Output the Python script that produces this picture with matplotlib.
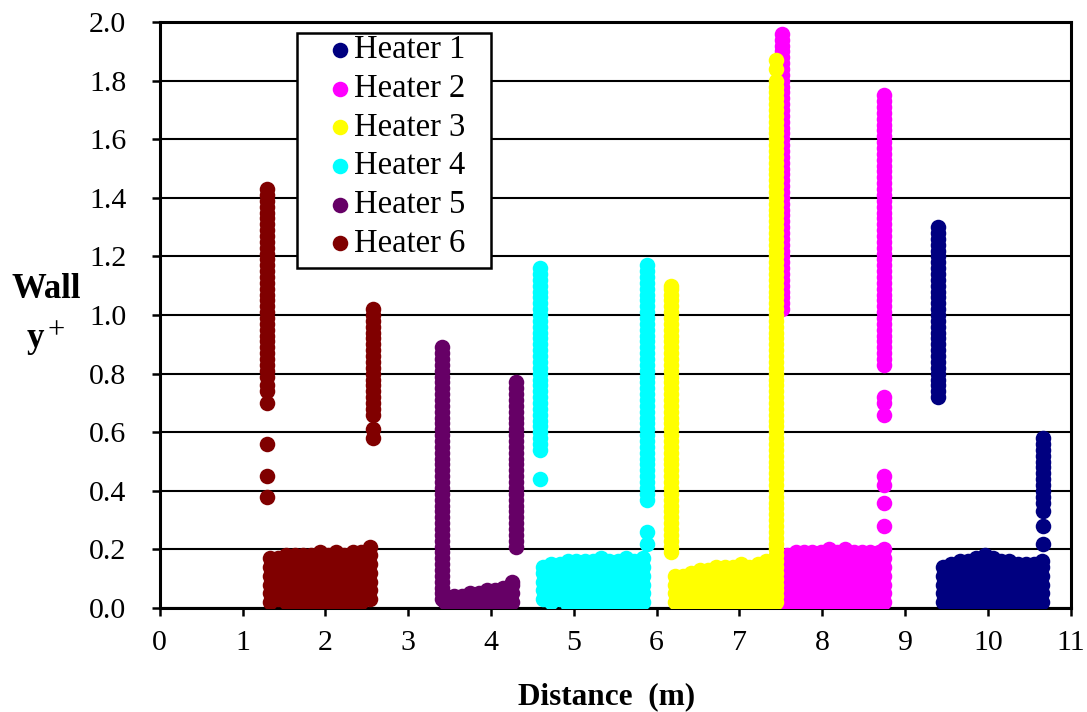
import matplotlib
matplotlib.use("Agg")
import matplotlib.pyplot as plt
from matplotlib.patches import Rectangle

plt.rcParams["font.family"] = ["Liberation Serif", "DejaVu Serif"]

labels = ["Heater 1", "Heater 2", "Heater 3", "Heater 4", "Heater 5", "Heater 6"]
colors = ["#000080", "#FF00FF", "#FFFF00", "#00FFFF", "#660066", "#800000"]

# vertical streaks: (x, [y values])
h1_cols = [
    (9.40, [0.72, 0.74, 0.76, 0.78, 0.80, 0.82, 0.84, 0.86, 0.88, 0.90, 0.92, 0.94,
            0.96, 0.98, 1.00, 1.02, 1.04, 1.06, 1.08, 1.10, 1.12, 1.14, 1.16, 1.18,
            1.20, 1.22, 1.24, 1.26, 1.28, 1.30]),
    (10.67, [0.22, 0.28, 0.33, 0.36, 0.38, 0.40, 0.42, 0.44, 0.46, 0.48, 0.50, 0.52,
             0.54, 0.56, 0.58]),
]
h2_cols = [
    (7.51, [1.02, 1.04, 1.06, 1.08, 1.10, 1.12, 1.14, 1.16, 1.18, 1.20, 1.22, 1.24,
            1.26, 1.28, 1.30, 1.32, 1.34, 1.36, 1.38, 1.40, 1.42, 1.44, 1.46, 1.48,
            1.50, 1.52, 1.54, 1.56, 1.58, 1.60, 1.62, 1.64, 1.66, 1.68, 1.70, 1.72,
            1.74, 1.76, 1.78, 1.80, 1.82, 1.84, 1.86, 1.88, 1.90, 1.92, 1.94, 1.96]),
    (8.75, [0.28, 0.36, 0.42, 0.45, 0.66, 0.70, 0.72, 0.83, 0.85, 0.87, 0.89, 0.91,
            0.93, 0.95, 0.97, 0.99, 1.01, 1.03, 1.05, 1.07, 1.09, 1.11, 1.13, 1.15,
            1.17, 1.19, 1.21, 1.23, 1.25, 1.27, 1.29, 1.31, 1.33, 1.35, 1.37, 1.39,
            1.41, 1.43, 1.45, 1.47, 1.49, 1.51, 1.53, 1.55, 1.57, 1.59, 1.61, 1.63,
            1.65, 1.67, 1.69, 1.71, 1.73, 1.75]),
]
h3_cols = [
    (6.17, [0.19, 0.21, 0.23, 0.25, 0.27, 0.29, 0.31, 0.33, 0.35, 0.37, 0.39, 0.41,
            0.43, 0.45, 0.47, 0.49, 0.51, 0.53, 0.55, 0.57, 0.59, 0.61, 0.63, 0.65,
            0.67, 0.69, 0.71, 0.73, 0.75, 0.77, 0.79, 0.81, 0.83, 0.85, 0.87, 0.89,
            0.91, 0.93, 0.95, 0.97, 0.99, 1.01, 1.03, 1.05, 1.07, 1.09, 1.10]),
    (7.44, [0.02, 0.04, 0.06, 0.08, 0.10, 0.12, 0.14, 0.16, 0.18, 0.20, 0.22, 0.24,
            0.26, 0.28, 0.30, 0.32, 0.34, 0.36, 0.38, 0.40, 0.42, 0.44, 0.46, 0.48,
            0.50, 0.52, 0.54, 0.56, 0.58, 0.60, 0.62, 0.64, 0.66, 0.68, 0.70, 0.72,
            0.74, 0.76, 0.78, 0.80, 0.82, 0.84, 0.86, 0.88, 0.90, 0.92, 0.94, 0.96,
            0.98, 1.00, 1.02, 1.04, 1.06, 1.08, 1.10, 1.12, 1.14, 1.16, 1.18, 1.20,
            1.22, 1.24, 1.26, 1.28, 1.30, 1.32, 1.34, 1.36, 1.38, 1.40, 1.42, 1.44,
            1.46, 1.48, 1.50, 1.52, 1.54, 1.56, 1.58, 1.60, 1.62, 1.64, 1.66, 1.68,
            1.70, 1.72, 1.74, 1.76, 1.78, 1.80, 1.84, 1.87]),
]
h4_cols = [
    (4.59, [0.44, 0.54, 0.56, 0.58, 0.60, 0.62, 0.64, 0.66, 0.68, 0.70, 0.72, 0.74,
            0.76, 0.78, 0.80, 0.82, 0.84, 0.86, 0.88, 0.90, 0.92, 0.94, 0.96, 0.98,
            1.00, 1.02, 1.04, 1.06, 1.08, 1.10, 1.12, 1.14, 1.16]),
    (5.88, [0.22, 0.26, 0.37, 0.39, 0.41, 0.43, 0.45, 0.47, 0.49, 0.51, 0.53, 0.55,
            0.57, 0.59, 0.61, 0.63, 0.65, 0.67, 0.69, 0.71, 0.73, 0.75, 0.77, 0.79,
            0.81, 0.83, 0.85, 0.87, 0.89, 0.91, 0.93, 0.95, 0.97, 0.99, 1.01, 1.03,
            1.05, 1.07, 1.09, 1.11, 1.13, 1.15, 1.17]),
]
h5_cols = [
    (3.41, [0.03, 0.05, 0.07, 0.09, 0.11, 0.13, 0.15, 0.17, 0.19, 0.21, 0.23, 0.25,
            0.27, 0.29, 0.31, 0.33, 0.35, 0.37, 0.39, 0.41, 0.43, 0.45, 0.47, 0.49,
            0.51, 0.53, 0.55, 0.57, 0.59, 0.61, 0.63, 0.65, 0.67, 0.69, 0.71, 0.73,
            0.75, 0.77, 0.79, 0.81, 0.83, 0.85, 0.87, 0.89]),
    (4.30, [0.21, 0.23, 0.25, 0.27, 0.29, 0.31, 0.33, 0.35, 0.37, 0.39, 0.41, 0.43,
            0.45, 0.47, 0.49, 0.51, 0.53, 0.55, 0.57, 0.59, 0.61, 0.63, 0.65, 0.67,
            0.69, 0.71, 0.73, 0.75, 0.77]),
]
h6_cols = [
    (1.30, [0.38, 0.45, 0.56, 0.70, 0.74, 0.76, 0.79, 0.81, 0.83, 0.85, 0.87, 0.89,
            0.91, 0.93, 0.95, 0.97, 0.99, 1.01, 1.03, 1.05, 1.07, 1.09, 1.11, 1.13,
            1.15, 1.17, 1.19, 1.21, 1.23, 1.25, 1.27, 1.29, 1.31, 1.33, 1.35, 1.37,
            1.39, 1.41, 1.43]),
    (2.57, [0.58, 0.61, 0.66, 0.68, 0.70, 0.72, 0.74, 0.76, 0.78, 0.80, 0.82, 0.84,
            0.86, 0.88, 0.90, 0.92, 0.94, 0.96, 0.98, 1.00, 1.02]),
]

# low bands along the wall: (x, [y values])
h1_band = [
    (9.46, [0.02, 0.05, 0.08, 0.11, 0.14]),
    (9.56, [0.01, 0.04, 0.07, 0.10, 0.13, 0.15]),
    (9.66, [0.02, 0.05, 0.08, 0.11, 0.14, 0.16]),
    (9.76, [0.01, 0.04, 0.07, 0.10, 0.13, 0.16]),
    (9.86, [0.02, 0.05, 0.08, 0.11, 0.14, 0.17]),
    (9.96, [0.01, 0.04, 0.07, 0.10, 0.13, 0.16, 0.18]),
    (10.06, [0.02, 0.05, 0.08, 0.11, 0.14, 0.17]),
    (10.16, [0.01, 0.04, 0.07, 0.10, 0.13, 0.16]),
    (10.26, [0.02, 0.05, 0.08, 0.11, 0.14, 0.16]),
    (10.36, [0.01, 0.04, 0.07, 0.10, 0.13, 0.15]),
    (10.46, [0.02, 0.05, 0.08, 0.11, 0.14, 0.15]),
    (10.56, [0.01, 0.04, 0.07, 0.10, 0.13, 0.15]),
    (10.65, [0.02, 0.05, 0.08, 0.11, 0.14, 0.16]),
]
h2_band = [
    (7.58, [0.01, 0.04, 0.07, 0.10, 0.13, 0.16, 0.18]),
    (7.68, [0.00, 0.03, 0.06, 0.09, 0.12, 0.15, 0.18, 0.19]),
    (7.78, [0.01, 0.04, 0.07, 0.10, 0.13, 0.16, 0.19]),
    (7.88, [0.02, 0.05, 0.08, 0.11, 0.14, 0.17, 0.19]),
    (7.98, [0.01, 0.04, 0.07, 0.10, 0.13, 0.16, 0.19]),
    (8.08, [0.00, 0.03, 0.06, 0.09, 0.12, 0.15, 0.18, 0.20]),
    (8.18, [0.01, 0.04, 0.07, 0.10, 0.13, 0.16, 0.19]),
    (8.28, [0.02, 0.05, 0.08, 0.11, 0.14, 0.17, 0.20]),
    (8.38, [0.01, 0.04, 0.07, 0.10, 0.13, 0.16, 0.19]),
    (8.48, [0.00, 0.03, 0.06, 0.09, 0.12, 0.15, 0.18, 0.19]),
    (8.58, [0.01, 0.04, 0.07, 0.10, 0.13, 0.16, 0.19]),
    (8.68, [0.00, 0.03, 0.06, 0.09, 0.12, 0.15, 0.18, 0.19]),
    (8.74, [0.02, 0.05, 0.08, 0.11, 0.14, 0.17, 0.20]),
]
h3_band = [
    (6.22, [0.02, 0.05, 0.08, 0.11]),
    (6.32, [0.02, 0.05, 0.08, 0.11]),
    (6.42, [0.01, 0.04, 0.07, 0.10, 0.12]),
    (6.52, [0.02, 0.05, 0.08, 0.11, 0.13]),
    (6.62, [0.01, 0.04, 0.07, 0.10, 0.13]),
    (6.72, [0.02, 0.05, 0.08, 0.11, 0.14]),
    (6.82, [0.01, 0.04, 0.07, 0.10, 0.13, 0.14]),
    (6.92, [0.02, 0.05, 0.08, 0.11, 0.14]),
    (7.02, [0.01, 0.04, 0.07, 0.10, 0.13, 0.15]),
    (7.12, [0.02, 0.05, 0.08, 0.11, 0.14]),
    (7.22, [0.01, 0.04, 0.07, 0.10, 0.13, 0.15]),
    (7.32, [0.02, 0.05, 0.08, 0.11, 0.14, 0.16]),
    (7.40, [0.00, 0.03, 0.06, 0.09, 0.12, 0.15]),
]
h4_band = [
    (4.63, [0.03, 0.06, 0.09, 0.12, 0.14]),
    (4.73, [0.02, 0.05, 0.08, 0.11, 0.14, 0.15]),
    (4.83, [0.03, 0.06, 0.09, 0.12, 0.15]),
    (4.93, [0.01, 0.04, 0.07, 0.10, 0.13, 0.16]),
    (5.03, [0.02, 0.05, 0.08, 0.11, 0.14, 0.16]),
    (5.13, [0.01, 0.04, 0.07, 0.10, 0.13, 0.16]),
    (5.23, [0.02, 0.05, 0.08, 0.11, 0.14, 0.16]),
    (5.33, [0.00, 0.03, 0.06, 0.09, 0.12, 0.15, 0.17]),
    (5.43, [0.02, 0.05, 0.08, 0.11, 0.14, 0.16]),
    (5.53, [0.01, 0.04, 0.07, 0.10, 0.13, 0.16]),
    (5.63, [0.00, 0.03, 0.06, 0.09, 0.12, 0.15, 0.17]),
    (5.73, [0.02, 0.05, 0.08, 0.11, 0.14, 0.16]),
    (5.84, [0.02, 0.05, 0.08, 0.11, 0.14, 0.17]),
]
h5_band = [
    (3.45, [0.02, 0.04]),
    (3.55, [0.01, 0.04]),
    (3.65, [0.01, 0.04]),
    (3.75, [0.02, 0.05]),
    (3.85, [0.00, 0.03, 0.05]),
    (3.95, [0.01, 0.04, 0.06]),
    (4.05, [0.01, 0.04, 0.06]),
    (4.15, [0.00, 0.03, 0.06, 0.07]),
    (4.25, [0.02, 0.05, 0.08, 0.09]),
]
h6_band = [
    (1.33, [0.02, 0.05, 0.08, 0.11, 0.14, 0.17]),
    (1.43, [0.03, 0.06, 0.09, 0.12, 0.15, 0.17]),
    (1.53, [0.02, 0.05, 0.08, 0.11, 0.14, 0.18]),
    (1.63, [0.01, 0.04, 0.07, 0.10, 0.13, 0.16, 0.18]),
    (1.73, [0.02, 0.05, 0.08, 0.11, 0.14, 0.18]),
    (1.83, [0.00, 0.03, 0.06, 0.09, 0.12, 0.15, 0.18]),
    (1.93, [0.01, 0.04, 0.07, 0.10, 0.13, 0.16, 0.19]),
    (2.03, [0.00, 0.03, 0.06, 0.09, 0.12, 0.15, 0.18]),
    (2.13, [0.01, 0.04, 0.07, 0.10, 0.13, 0.16, 0.19]),
    (2.23, [0.00, 0.03, 0.06, 0.09, 0.12, 0.15, 0.18]),
    (2.33, [0.01, 0.04, 0.07, 0.10, 0.13, 0.16, 0.19]),
    (2.43, [0.02, 0.05, 0.08, 0.11, 0.14, 0.17, 0.19]),
    (2.54, [0.03, 0.06, 0.09, 0.12, 0.15, 0.18, 0.21]),
]

series = [h1_cols + h1_band, h2_cols + h2_band, h3_cols + h3_band,
          h4_cols + h4_band, h5_cols + h5_band, h6_cols + h6_band]


def flatten(groups):
    xs, ys = [], []
    for x, yvals in groups:
        xs.extend([x] * len(yvals))
        ys.extend(yvals)
    return xs, ys


fig = plt.figure(figsize=(10.87, 7.12), dpi=100)
ax = fig.add_axes([0.147, 0.146, 0.838, 0.823])

for groups, lbl, c in zip(series, labels, colors):
    xs, ys = flatten(groups)
    ax.scatter(xs, ys, s=125, color=c, linewidths=0, label=lbl, zorder=3)

ax.set_xlim(0, 11)
ax.set_ylim(0, 2.0)
ax.set_xticks(range(0, 12))
ax.set_yticks([i * 0.2 for i in range(11)])
ax.set_yticklabels([f"{i * 0.2:.1f}" for i in range(11)])
ax.yaxis.grid(True, color="black", linewidth=1.5)
ax.set_axisbelow(True)
for sp in ax.spines.values():
    sp.set_linewidth(2.2)
ax.tick_params(direction="out", length=6, width=1.8, labelsize=21.5)
ax.tick_params(axis="x", pad=10)
ax.tick_params(axis="y", pad=18)

ax.set_xlabel("Distance  (m)", fontsize=22.5, fontweight="bold")
ax.xaxis.set_label_coords(0.49, -0.127)
fig.text(0.043, 0.593, "Wall", fontsize=25, fontweight="bold", ha="center", va="center")
fig.text(0.033, 0.525, "y", fontsize=25, fontweight="bold", ha="center", va="center")
fig.text(0.052, 0.535, "+", fontsize=22, ha="center", va="center")

# legend box drawn separately so the padding can match the original
ax.add_patch(Rectangle((0.151, 0.580), 0.213, 0.401, transform=ax.transAxes,
                       facecolor="white", edgecolor="black", linewidth=1.8, zorder=5))
leg = ax.legend(loc="upper left", bbox_to_anchor=(0.183, 0.978), fontsize=23.5,
                frameon=False, handletextpad=0.05, labelspacing=0.25, borderpad=0,
                handlelength=0.8, borderaxespad=0)
leg.set_zorder(6)

fig.savefig("out.png", dpi=100)
